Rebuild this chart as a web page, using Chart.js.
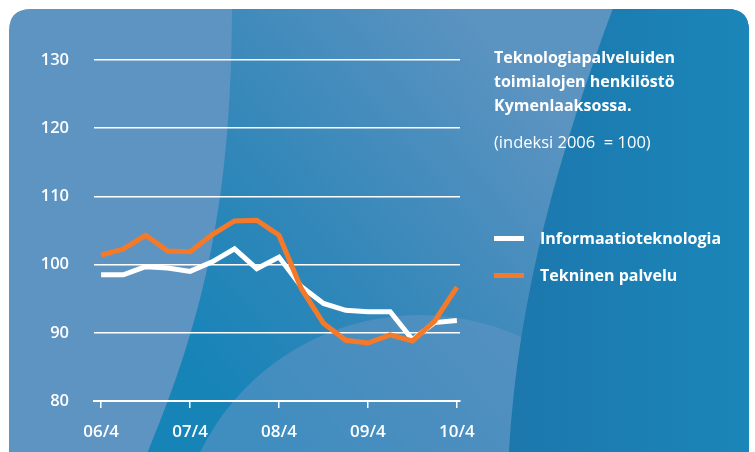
<!DOCTYPE html>
<html>
<head>
<meta charset="utf-8">
<script src="https://cdn.jsdelivr.net/npm/chart.js@4.4.1/dist/chart.umd.min.js"></script>
<style>
  html, body { margin:0; padding:0; background:#ffffff; }
  #wrap { position:relative; width:755px; height:452px; overflow:hidden; }
  canvas { position:absolute; left:0; top:0; }
  .txt { position:absolute; color:#ffffff; font-family:"Open Sans", sans-serif; white-space:nowrap; }
  #title { left:494px; top:45px; font-size:16px; font-weight:700; line-height:24px; }
  #sub { left:494px; top:130px; font-size:16.5px; font-weight:400; line-height:24px; }
  #legend { left:494px; top:0; }
  .lg-item { position:absolute; left:0; height:24px; }
  .lg-swatch { position:absolute; left:0; width:30px; height:5px; }
  .lg-text { position:absolute; left:46px; font-size:16px; font-weight:700; line-height:24px; }
</style>
</head>
<body>
<div id="wrap">
  <canvas id="c" width="755" height="452"></canvas>
  <div id="title" class="txt">Teknologiapalveluiden<br>toimialojen henkilöstö<br>Kymenlaaksossa.</div>
  <div id="sub" class="txt">(indeksi 2006&nbsp; = 100)</div>
  <div id="legend" class="txt"></div>
</div>
<script>
// ---- data ----
const quarters = ['06/4','07/1','07/2','07/3','07/4','08/1','08/2','08/3','08/4','09/1','09/2','09/3','09/4','10/1','10/2','10/3','10/4'];
const axisTickIndexes = [0, 4, 8, 12, 16];
const seriesNames = ['Informaatioteknologia', 'Tekninen palvelu'];
const itValues  = [98.5, 98.5, 99.7, 99.5, 99.0, 100.4, 102.3, 99.4, 101.1, 96.8, 94.3, 93.3, 93.1, 93.1, 89.0, 91.5, 91.8];
const tekValues = [101.4, 102.3, 104.3, 102.0, 101.9, 104.4, 106.4, 106.5, 104.3, 96.5, 91.4, 88.9, 88.5, 89.7, 88.8, 91.7, 96.7];
const yMin = 80, yMax = 130, yStep = 10;

const colors = ['#ffffff', '#f47a2a'];

const bgPlugin = {
  id: 'bg',
  beforeDraw(chart) {
    const ctx = chart.ctx;
    ctx.save();
    const x = 9, y = 9, w = 740, h = 470, r = 22;
    ctx.beginPath();
    ctx.moveTo(x + r, y);
    ctx.lineTo(x + w - r, y);
    ctx.quadraticCurveTo(x + w, y, x + w, y + r);
    ctx.lineTo(x + w, y + h - r);
    ctx.quadraticCurveTo(x + w, y + h, x + w - r, y + h);
    ctx.lineTo(x + r, y + h);
    ctx.quadraticCurveTo(x, y + h, x, y + h - r);
    ctx.lineTo(x, y + r);
    ctx.quadraticCurveTo(x, y, x + r, y);
    ctx.closePath();
    ctx.clip();
    ctx.fillStyle = '#5e94c2';
    ctx.fillRect(0, 0, 755, 480);

    // middle region
    ctx.beginPath();
    ctx.moveTo(232, 0);
    ctx.bezierCurveTo(232, 200, 205, 320, 140, 470);
    ctx.lineTo(760, 470);
    ctx.lineTo(760, 0);
    ctx.closePath();
    let g = ctx.createLinearGradient(210, 380, 540, 100);
    g.addColorStop(0, '#1784b8');
    g.addColorStop(0.4, '#3287b9');
    g.addColorStop(1, '#5b93c1');
    ctx.fillStyle = g;
    ctx.fill();

    // lower circle highlight
    ctx.beginPath();
    ctx.arc(420, 560, 245, 0, Math.PI * 2);
    ctx.fillStyle = 'rgba(98,150,196,0.55)';
    ctx.fill();

    // right region
    ctx.beginPath();
    ctx.moveTo(616, 0);
    ctx.bezierCurveTo(560, 150, 515, 300, 508, 470);
    ctx.lineTo(760, 470);
    ctx.lineTo(760, 0);
    ctx.closePath();
    g = ctx.createLinearGradient(508, 0, 750, 0);
    g.addColorStop(0, '#1c77ad');
    g.addColorStop(1, '#1b86b8');
    ctx.fillStyle = g;
    ctx.fill();

    ctx.restore();
  }
};

const chart = new Chart(document.getElementById('c'), {
  type: 'line',
  data: {
    datasets: [
      {
        label: seriesNames[0],
        data: itValues.map((v, i) => ({ x: i, y: v })),
        borderColor: colors[0],
        borderWidth: 5,
        pointRadius: 0,
        tension: 0,
        fill: false,
        order: 1
      },
      {
        label: seriesNames[1],
        data: tekValues.map((v, i) => ({ x: i, y: v })),
        borderColor: colors[1],
        borderWidth: 5,
        pointRadius: 0,
        tension: 0,
        fill: false,
        order: 0
      }
    ]
  },
  options: {
    responsive: false,
    animation: false,
    devicePixelRatio: 1,
    layout: { padding: { left: 0, right: 295, top: 60, bottom: 0 } },
    plugins: { legend: { display: false }, tooltip: { enabled: false }, title: { display: false } },
    scales: {
      x: {
        type: 'linear',
        min: -0.32,
        max: 16.14,
        afterBuildTicks: (s) => { s.ticks = axisTickIndexes.map(v => ({ value: v })); },
        afterFit: (s) => { s.height = 51; },
        grid: { drawOnChartArea: false, drawTicks: true, tickLength: 7, color: '#ffffff', lineWidth: 1.5 },
        border: { display: true, color: '#ffffff', width: 2 },
        ticks: {
          color: '#ffffff',
          padding: 14,
          maxRotation: 0,
          autoSkip: false,
          font: { family: '"Open Sans", sans-serif', size: 17, weight: 600 },
          callback: (v) => quarters[v]
        }
      },
      y: {
        min: yMin,
        max: yMax,
        afterFit: (s) => { s.width = 94; },
        grid: { color: '#ffffff', lineWidth: 1.5, drawTicks: false },
        border: { display: false },
        ticks: {
          stepSize: yStep,
          color: '#ffffff',
          padding: 25,
          font: { family: '"Open Sans", sans-serif', size: 16.5, weight: 600 }
        }
      }
    }
  },
  plugins: [bgPlugin]
});

const legendEl = document.getElementById('legend');
const legendTops = [226, 263];
chart.data.datasets.forEach((ds, i) => {
  const item = document.createElement('div');
  item.className = 'lg-item';
  item.style.top = legendTops[i] + 'px';
  const sw = document.createElement('div');
  sw.className = 'lg-swatch';
  sw.style.background = ds.borderColor;
  sw.style.top = '10px';
  const tx = document.createElement('div');
  tx.className = 'lg-text';
  tx.textContent = ds.label;
  item.appendChild(sw);
  item.appendChild(tx);
  legendEl.appendChild(item);
});
</script>
</body>
</html>
